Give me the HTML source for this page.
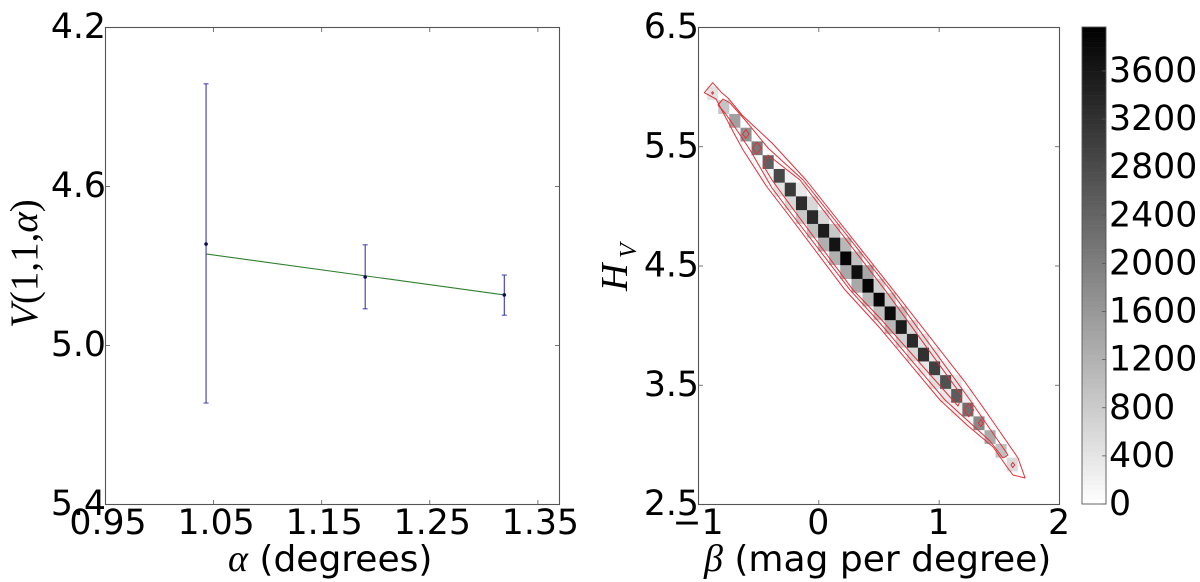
<!DOCTYPE html>
<html lang="en">
<head>
<meta charset="utf-8">
<title>Phase curve fit and parameter distribution</title>
<style>
html,body{margin:0;padding:0;background:#fff;width:1200px;height:582px;overflow:hidden}
svg{display:block}
text{font-family:"DejaVu Sans","Liberation Sans",sans-serif;fill:#000}
.math{font-family:"Liberation Serif",serif;font-style:italic}
</style>
</head>
<body>
<svg id="figure" xmlns="http://www.w3.org/2000/svg" width="1200" height="582" viewBox="0 0 1200 582">
  <rect width="1200" height="582" fill="#fff"/>
  <g id="left-panel"></g>
  <g id="right-panel"></g>
  <g id="colorbar"></g>
  <text x="228" y="571" font-size="36"><tspan class="math" font-size="38">α</tspan> (degrees)</text>
  <text transform="translate(37,328) rotate(-90)" font-size="39" class="math">V<tspan font-style="normal">(1,1,</tspan>α<tspan font-style="normal">)</tspan></text>
  <text x="704" y="571" font-size="36"><tspan class="math" font-size="38">β</tspan> (mag per degree)</text>
  <text transform="translate(627,291) rotate(-90)" font-size="38" class="math">H<tspan font-size="24" x="33" y="9">V</tspan></text>
</svg>
<script>
// ---- Left panel data ----
const alphaValues = [1.0435, 1.1907, 1.3194];
const magnitudeValues = [4.746, 4.829, 4.874];
const errorTop = [4.343, 4.748, 4.824];
const errorBottom = [5.146, 4.909, 4.925];
const fitAlpha = [1.0435, 1.3194];
const fitMagnitude = [4.771, 4.874];
const leftXTicks = [0.95, 1.05, 1.15, 1.25, 1.35];
const leftXLabels = ['0.95', '1.05', '1.15', '1.25', '1.35'];
const leftYTicks = [4.2, 4.6, 5.0, 5.4];
const leftYLabels = ['4.2', '4.6', '5.0', '5.4'];

// ---- Right panel data ----
const binWidthBeta = 0.0922;
const binHeightH = 0.1153;
const diagBeta = [-0.878,-0.786,-0.694,-0.601,-0.509,-0.417,-0.325,-0.233,-0.140,-0.048,0.044,0.136,0.228,0.321,0.413,0.505,0.597,0.689,0.782,0.874,0.966,1.058,1.150,1.243,1.335,1.427,1.519,1.611];
const diagH = [5.944,5.829,5.713,5.598,5.483,5.367,5.252,5.137,5.022,4.906,4.791,4.676,4.560,4.445,4.330,4.214,4.099,3.984,3.869,3.753,3.638,3.523,3.407,3.292,3.177,3.061,2.946,2.831];
const diagCount = [450,917,1470,1720,2100,2470,2850,3063,3281,3312,3530,3654,3887,3716,3887,3840,3778,3530,3312,3218,2970,2721,2534,2223,1850,1322,979,575];
const upperCount = [0,0,0,0,40,100,200,360,600,600,855,1104,980,1353,730,855,980,600,480,360,230,360,230,100,50,0,0,0];
const lowerCount = [0,0,0,0,40,150,450,600,855,980,1228,1228,1353,1353,1100,980,1104,730,600,360,480,360,230,120,50,0,0,0];

const outerBeta = [-0.878,-0.801,-0.751,-0.634,-0.385,-0.102,0.621,1.219,1.402,1.659,1.718,1.618,1.568,1.452,1.236,1.011,0.512,0.222,-0.235,-0.427,-0.626,-0.693,-0.850,-0.948];
const outerH = [6.033,5.947,5.905,5.762,5.527,5.217,4.295,3.523,3.263,2.886,2.718,2.743,2.810,2.978,3.162,3.372,3.976,4.295,4.907,5.158,5.469,5.594,5.896,5.949];
const middleBeta = [-0.792,-0.734,-0.609,-0.418,-0.127,0.596,1.260,1.576,1.535,1.427,1.053,0.512,0.263,-0.235,-0.385,-0.568,-0.717,-0.776,-0.834];
const middleH = [5.896,5.863,5.720,5.485,5.217,4.295,3.372,2.911,2.886,3.028,3.372,4.018,4.295,4.949,5.150,5.469,5.695,5.779,5.846];
const innerBeta = [-0.418,-0.152,0.554,1.194,1.161,1.094,0.512,0.288,-0.235,-0.385,-0.460];
const innerH = [5.427,5.217,4.295,3.406,3.322,3.397,4.060,4.295,5.007,5.217,5.343];
const islandBeta = [-0.602,-0.510,1.250,1.350,1.616,-0.879];
const islandH = [5.603,5.485,3.288,3.179,2.827,5.947];
const islandRadius = [0.027,0.037,0.042,0.021,0.016,0.008];

const rightXTicks = [-1, 0, 1, 2];
const rightXLabels = ['\u22121', '0', '1', '2'];
const rightYTicks = [2.5, 3.5, 4.5, 5.5, 6.5];
const rightYLabels = ['2.5', '3.5', '4.5', '5.5', '6.5'];

// ---- Colorbar data ----
const colorbarTicks = [0, 400, 800, 1200, 1600, 2000, 2400, 2800, 3200, 3600];
const colorbarLabels = ['0', '400', '800', '1200', '1600', '2000', '2400', '2800', '3200', '3600'];
const colorbarMax = 3965;
const colorbarStep = 40;

// ---- Helpers ----
const NS = 'http://www.w3.org/2000/svg';
function make(parent, tag, attrs, text) {
  const el = document.createElementNS(NS, tag);
  for (const k in attrs) el.setAttribute(k, attrs[k]);
  if (text !== undefined) el.textContent = text;
  parent.appendChild(el);
  return el;
}
function grayFor(count) {
  const g = Math.round(255 * (1 - Math.min(count, colorbarMax) / colorbarMax));
  return 'rgb(' + g + ',' + g + ',' + g + ')';
}
const SPINE = '#555';

// ---- Scales ----
const lx = v => 105 + (v - 0.95) / 0.42 * 454;
const ly = v => 27 + (v - 4.2) / 1.2 * 477;
const rx = v => 698 + (v + 1) / 3 * 361;
const ry = v => 27 + (6.5 - v) / 4 * 477;
const cy = v => 504 - v / colorbarMax * 477;

function drawFrame(g, x0, x1, y0, y1) {
  const frame = make(g, 'rect', {x: x0 + 0.5, y: y0 + 0.5, width: x1 - x0, height: y1 - y0, fill: 'none', stroke: SPINE, 'stroke-width': 1.1});
  
  
}
function drawXTicks(g, ticks, labels, scale, y0, y1, dx) {
  ticks.forEach((t, i) => {
    const x = scale(t);
    const bottom = make(g, 'line', {x1: x + 0.5, x2: x + 0.5, y1: y1 + 0.5, y2: y1 - 4, stroke: SPINE, 'stroke-width': 0.8});
    
    
    const top = make(g, 'line', {x1: x + 0.5, x2: x + 0.5, y1: y0 + 0.5, y2: y0 + 5, stroke: SPINE, 'stroke-width': 0.8});
    
    
    const label = make(g, 'text', {x: x + dx, y: 534, 'font-size': 34.7, 'text-anchor': 'middle'}, labels[i]);
    
    
  });
}
function drawYTicks(g, ticks, labels, scale, x0, x1) {
  ticks.forEach((t, i) => {
    const y = scale(t);
    const left = make(g, 'line', {x1: x0 + 0.5, x2: x0 + 5, y1: y + 0.5, y2: y + 0.5, stroke: SPINE, 'stroke-width': 0.8});
    
    
    const right = make(g, 'line', {x1: x1 + 0.5, x2: x1 - 4, y1: y + 0.5, y2: y + 0.5, stroke: SPINE, 'stroke-width': 0.8});
    
    
    const label = make(g, 'text', {x: x0 + 1, y: y + 11, 'font-size': 34.7, 'text-anchor': 'end'}, labels[i]);
    
    
  });
}

// ---- Left panel ----
const left = document.getElementById('left-panel');
const fitLine = make(left, 'polyline', {points: fitAlpha.map((a, i) => lx(a) + ',' + ly(fitMagnitude[i])).join(' '), fill: 'none', stroke: '#2f7f2f', 'stroke-width': 1.1});


alphaValues.forEach((a, i) => {
  const x = lx(a);
  const stem = make(left, 'line', {x1: x, x2: x, y1: ly(errorTop[i]), y2: ly(errorBottom[i]), stroke: '#3a3aa8', 'stroke-width': 1.1});
  
  
  [errorTop[i], errorBottom[i]].forEach(v => {
    const cap = make(left, 'line', {x1: x - 2.5, x2: x + 2.5, y1: ly(v), y2: ly(v), stroke: '#3a3aa8', 'stroke-width': 1});
    
    
  });
  const point = make(left, 'circle', {cx: x, cy: ly(magnitudeValues[i]), r: 1.8, fill: '#0a0a50'});
  
  
});
drawFrame(left, 105, 559, 27, 504);
drawXTicks(left, leftXTicks, leftXLabels, lx, 27, 504, 3);
drawYTicks(left, leftYTicks, leftYLabels, ly, 105, 559);

// ---- Right panel ----
const right = document.getElementById('right-panel');
function drawCell(beta, h, count) {
  if (count <= 0) return;
  const x0 = rx(beta - binWidthBeta / 2);
  const x1 = rx(beta + binWidthBeta / 2);
  const y0 = ry(h + binHeightH / 2);
  const y1 = ry(h - binHeightH / 2);
  const cell = make(right, 'rect', {x: x0, y: y0, width: x1 - x0, height: y1 - y0, fill: grayFor(count)});
  
  
}
diagBeta.forEach((b, i) => {
  drawCell(b + binWidthBeta, diagH[i], upperCount[i]);
  drawCell(b, diagH[i] - binHeightH, lowerCount[i]);
});
diagBeta.forEach((b, i) => {
  drawCell(b, diagH[i], diagCount[i]);
});
function drawContour(betas, hs, name) {
  const pts = betas.map((b, i) => rx(b).toFixed(1) + ',' + ry(hs[i]).toFixed(1)).join(' ');
  const poly = make(right, 'polygon', {points: pts, fill: 'none', stroke: '#e0303a', 'stroke-width': 1, 'stroke-linejoin': 'round'});
  
  
}
drawContour(outerBeta, outerH, 'contour-outer');
drawContour(middleBeta, middleH, 'contour-middle');
drawContour(innerBeta, innerH, 'contour-inner');
islandBeta.forEach((b, i) => {
  const r = islandRadius[i];
  const vb = [b, b + r, b, b - r];
  const vh = [islandH[i] + r * 1.35, islandH[i], islandH[i] - r * 1.35, islandH[i]];
  drawContour(vb, vh, 'contour-island');
});
drawFrame(right, 698, 1059, 27, 504);
drawXTicks(right, rightXTicks, rightXLabels, rx, 27, 504, 0);
drawYTicks(right, rightYTicks, rightYLabels, ry, 698, 1059);

// ---- Colorbar ----
const cbar = document.getElementById('colorbar');
for (let v = 0; v < colorbarMax; v += colorbarStep) {
  const top = cy(Math.min(v + colorbarStep, colorbarMax));
  const band = make(cbar, 'rect', {x: 1082, y: top, width: 24, height: cy(v) - top + 0.4, fill: grayFor(v + colorbarStep / 2)});
  
  
  const seam = make(cbar, 'line', {x1: 1082, x2: 1106, y1: top, y2: top, stroke: '#fff', 'stroke-width': 0.5, 'stroke-opacity': 0.35});
  
  
}
const cbarFrame = make(cbar, 'rect', {x: 1082, y: 27, width: 24, height: 477, fill: 'none', stroke: SPINE, 'stroke-width': 0.9});


colorbarTicks.forEach((t, i) => {
  const y = cy(t);
  const tick = make(cbar, 'line', {x1: 1102, x2: 1106, y1: y, y2: y, stroke: SPINE, 'stroke-width': 0.8});
  
  
  const label = make(cbar, 'text', {x: 1109, y: y + 11, 'font-size': 34.7}, colorbarLabels[i]);
  
  
});
</script>
</body>
</html>
